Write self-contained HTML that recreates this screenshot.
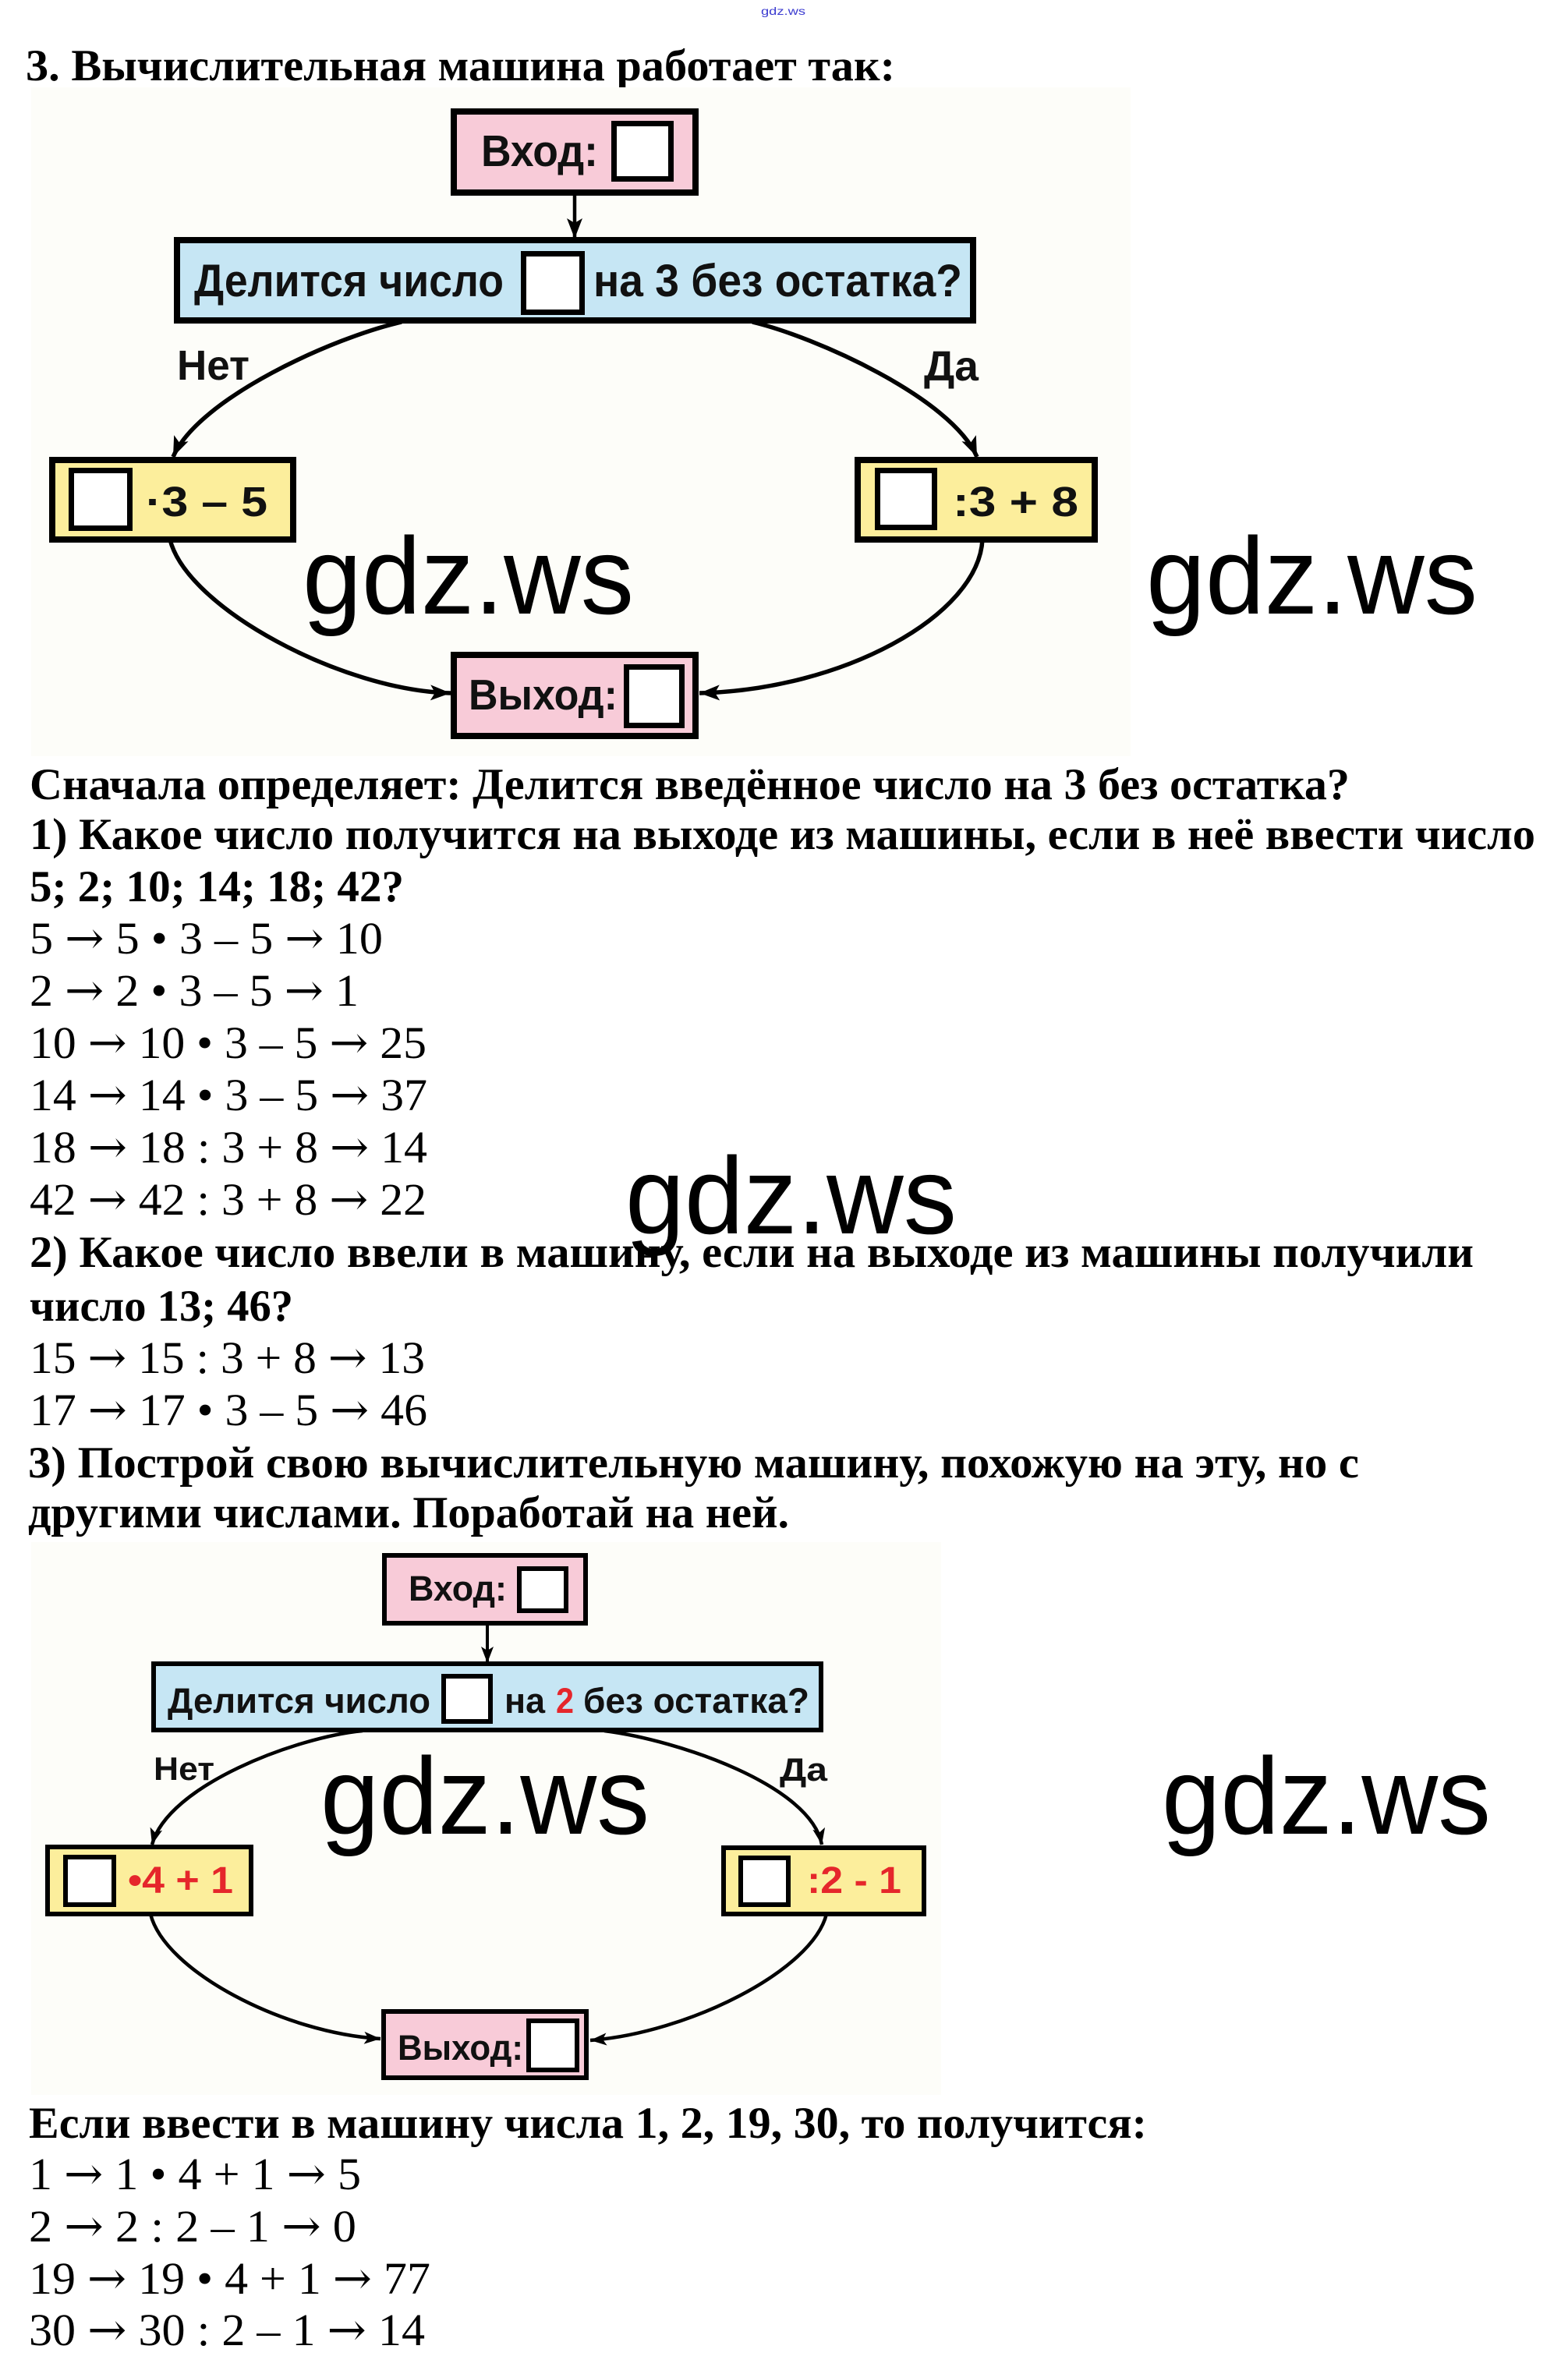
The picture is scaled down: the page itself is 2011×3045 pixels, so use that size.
<!DOCTYPE html>
<html>
<head>
<meta charset="utf-8">
<style>
  html, body { margin: 0; padding: 0; background: #ffffff; }
  svg { display: block; }
  .b { font-family: "Liberation Serif", "DejaVu Serif", serif; font-weight: bold; font-size: 57px; fill: #000; }
  .r { font-family: "Liberation Serif", "DejaVu Serif", serif; font-weight: normal; font-size: 58px; fill: #000; }
  .ar { font-family: "DejaVu Serif", "DejaVu Sans", serif; font-weight: normal; }
  .d { font-family: "Liberation Sans", "DejaVu Sans", sans-serif; font-weight: bold; fill: #111; }
  .wm { font-family: "Liberation Sans", "DejaVu Sans", sans-serif; font-weight: normal; font-size: 140px; fill: #000; }
  .pink { fill: #f8cbd8; stroke: #000; }
  .blue { fill: #c6e6f4; stroke: #000; }
  .yel { fill: #fcee9c; stroke: #000; }
  .wh { fill: #ffffff; stroke: #000; }
  .cv1 { fill: none; stroke: #000; stroke-width: 5.5; }
  .cv2 { fill: none; stroke: #000; stroke-width: 4.5; }
  .red { fill: #e5262b; }
</style>
</head>
<body>
<svg xmlns="http://www.w3.org/2000/svg" width="2011" height="3045" viewBox="0 0 2011 3045">
  <defs>
    <marker id="a1" markerUnits="userSpaceOnUse" markerWidth="30" markerHeight="24" refX="26" refY="11" orient="auto">
      <path d="M0,1 L26,11 L0,21 L6,11 z" fill="#000"/>
    </marker>
    <marker id="a2" markerUnits="userSpaceOnUse" markerWidth="24" markerHeight="20" refX="21" refY="9" orient="auto">
      <path d="M0,1 L21,9 L0,17 L5,9 z" fill="#000"/>
    </marker>
  </defs>

  <rect x="0" y="0" width="2011" height="3045" fill="#ffffff"/>

  <!-- small top watermark -->
  <text x="976" y="19" font-family="'Liberation Sans', sans-serif" font-size="14" fill="#3b3bd0" textLength="57" lengthAdjust="spacingAndGlyphs">gdz.ws</text>

  <!-- title -->
  <text class="b" x="33" y="103" textLength="1115" lengthAdjust="spacingAndGlyphs">3. Вычислительная машина работает так:</text>

  <!-- ================= DIAGRAM 1 ================= -->
  <rect x="40" y="112" width="1410" height="858" fill="#fdfdf9"/>

  <!-- curves -->
  <path class="cv1" d="M515,413 C430,432 255,510 222,586" marker-end="url(#a1)"/>
  <path class="cv1" d="M965,413 C1045,432 1220,510 1253,586" marker-end="url(#a1)"/>
  <path class="cv1" d="M218,692 C240,780 440,886 578,889" marker-end="url(#a1)"/>
  <path class="cv1" d="M1260,692 C1255,790 1080,885 897,889" marker-end="url(#a1)"/>
  <!-- entry arrow -->
  <path d="M737,251 L737,306" stroke="#000" stroke-width="4.5" fill="none" marker-end="url(#a1)"/>

  <!-- Вход -->
  <rect class="pink" x="582" y="143" width="310" height="104" stroke-width="8"/>
  <rect class="wh" x="787.5" y="158.5" width="73" height="71" stroke-width="7"/>
  <text class="d" x="617" y="213" font-size="57" textLength="150" lengthAdjust="spacingAndGlyphs">Вход:</text>

  <!-- Делится -->
  <rect class="blue" x="227" y="308" width="1021" height="103" stroke-width="8"/>
  <rect class="wh" x="671.5" y="325.5" width="75" height="75" stroke-width="7"/>
  <text class="d" x="249" y="380" font-size="58" textLength="397" lengthAdjust="spacingAndGlyphs">Делится число</text>
  <text class="d" x="761" y="380" font-size="58" textLength="473" lengthAdjust="spacingAndGlyphs">на 3 без остатка?</text>

  <!-- labels -->
  <text class="d" x="227" y="487" font-size="54" textLength="93" lengthAdjust="spacingAndGlyphs">Нет</text>
  <text class="d" x="1185" y="488" font-size="54" textLength="70" lengthAdjust="spacingAndGlyphs">Да</text>

  <!-- left box -->
  <rect class="yel" x="67" y="590" width="309" height="102" stroke-width="8"/>
  <rect class="wh" x="91.5" y="603.5" width="75" height="74" stroke-width="7"/>
  <text class="d" x="187" y="662" font-size="54" textLength="156" lengthAdjust="spacingAndGlyphs">·3 – 5</text>

  <!-- right box -->
  <rect class="yel" x="1100" y="590" width="304" height="102" stroke-width="8"/>
  <rect class="wh" x="1125.5" y="603.5" width="73" height="73" stroke-width="7"/>
  <text class="d" x="1222" y="662" font-size="54" textLength="161" lengthAdjust="spacingAndGlyphs">:3 + 8</text>

  <!-- Выход -->
  <rect class="pink" x="582" y="840" width="310" height="104" stroke-width="8"/>
  <rect class="wh" x="803.5" y="855.5" width="71" height="75" stroke-width="7"/>
  <text class="d" x="601" y="910" font-size="55" textLength="191" lengthAdjust="spacingAndGlyphs">Выход:</text>

  <!-- watermarks diagram 1 -->
  <text class="wm" x="388" y="787" textLength="425" lengthAdjust="spacingAndGlyphs">gdz.ws</text>
  <text class="wm" x="1470" y="787" textLength="425" lengthAdjust="spacingAndGlyphs">gdz.ws</text>

  <!-- ================= TEXT BLOCK 1 ================= -->
  <text class="b" x="38" y="1025" textLength="1693" lengthAdjust="spacingAndGlyphs">Сначала определяет: Делится введённое число на 3 без остатка?</text>
  <text class="b" x="38" y="1089" textLength="1931" lengthAdjust="spacingAndGlyphs">1) Какое число получится на выходе из машины, если в неё ввести число</text>
  <text class="b" x="38" y="1156" textLength="480" lengthAdjust="spacingAndGlyphs">5; 2; 10; 14; 18; 42?</text>
  <text class="r" x="38" y="1223" textLength="453" lengthAdjust="spacingAndGlyphs">5 <tspan class="ar">→</tspan> 5 • 3 – 5 <tspan class="ar">→</tspan> 10</text>
  <text class="r" x="38" y="1290" textLength="422" lengthAdjust="spacingAndGlyphs">2 <tspan class="ar">→</tspan> 2 • 3 – 5 <tspan class="ar">→</tspan> 1</text>
  <text class="r" x="38" y="1357" textLength="509" lengthAdjust="spacingAndGlyphs">10 <tspan class="ar">→</tspan> 10 • 3 – 5 <tspan class="ar">→</tspan> 25</text>
  <text class="r" x="38" y="1424" textLength="510" lengthAdjust="spacingAndGlyphs">14 <tspan class="ar">→</tspan> 14 • 3 – 5 <tspan class="ar">→</tspan> 37</text>
  <text class="r" x="38" y="1491" textLength="510" lengthAdjust="spacingAndGlyphs">18 <tspan class="ar">→</tspan> 18 : 3 + 8 <tspan class="ar">→</tspan> 14</text>
  <text class="r" x="38" y="1558" textLength="509" lengthAdjust="spacingAndGlyphs">42 <tspan class="ar">→</tspan> 42 : 3 + 8 <tspan class="ar">→</tspan> 22</text>

  <text class="wm" x="802" y="1582" textLength="425" lengthAdjust="spacingAndGlyphs">gdz.ws</text>

  <text class="b" x="38" y="1625" textLength="1852" lengthAdjust="spacingAndGlyphs">2) Какое число ввели в машину, если на выходе из машины получили</text>
  <text class="b" x="38" y="1694" textLength="338" lengthAdjust="spacingAndGlyphs">число 13; 46?</text>
  <text class="r" x="38" y="1761" textLength="507" lengthAdjust="spacingAndGlyphs">15 <tspan class="ar">→</tspan> 15 : 3 + 8 <tspan class="ar">→</tspan> 13</text>
  <text class="r" x="38" y="1828" textLength="510" lengthAdjust="spacingAndGlyphs">17 <tspan class="ar">→</tspan> 17 • 3 – 5 <tspan class="ar">→</tspan> 46</text>
  <text class="b" x="36" y="1895" textLength="1707" lengthAdjust="spacingAndGlyphs">3) Построй свою вычислительную машину, похожую на эту, но с</text>
  <text class="b" x="36" y="1959" textLength="976" lengthAdjust="spacingAndGlyphs">другими числами. Поработай на ней.</text>

  <!-- ================= DIAGRAM 2 ================= -->
  <rect x="40" y="1978" width="1167" height="709" fill="#fdfdf9"/>

  <path class="cv2" d="M465,2220 C380,2228 215,2290 195,2366" marker-end="url(#a2)"/>
  <path class="cv2" d="M775,2220 C870,2232 1040,2290 1054,2366" marker-end="url(#a2)"/>
  <path class="cv2" d="M193,2455 C211,2528 364,2608 488,2615" marker-end="url(#a2)"/>
  <path class="cv2" d="M1060,2455 C1042,2528 881,2608 757,2617" marker-end="url(#a2)"/>
  <path d="M625,2085 L625,2133" stroke="#000" stroke-width="4" fill="none" marker-end="url(#a2)"/>

  <!-- Вход -->
  <rect class="pink" x="493" y="1995" width="258" height="87" stroke-width="6"/>
  <rect class="wh" x="666" y="2012" width="60" height="54" stroke-width="6"/>
  <text class="d" x="524" y="2053" font-size="45" textLength="126" lengthAdjust="spacingAndGlyphs">Вход:</text>

  <!-- Делится -->
  <rect class="blue" x="197" y="2134" width="856" height="85" stroke-width="6"/>
  <rect class="wh" x="569" y="2150" width="60" height="58" stroke-width="6"/>
  <text class="d" x="215" y="2197" font-size="45" textLength="337" lengthAdjust="spacingAndGlyphs">Делится число</text>
  <text class="d" x="647" y="2197" font-size="45" textLength="52" lengthAdjust="spacingAndGlyphs">на</text>
  <text class="d red" x="713" y="2197" font-size="45" textLength="23" lengthAdjust="spacingAndGlyphs">2</text>
  <text class="d" x="748" y="2197" font-size="45" textLength="290" lengthAdjust="spacingAndGlyphs">без остатка?</text>

  <text class="d" x="197" y="2283" font-size="42" textLength="78" lengthAdjust="spacingAndGlyphs">Нет</text>
  <text class="d" x="1000" y="2284" font-size="42" textLength="61" lengthAdjust="spacingAndGlyphs">Да</text>

  <!-- left box -->
  <rect class="yel" x="61" y="2369" width="261" height="86" stroke-width="6"/>
  <rect class="wh" x="84" y="2382" width="62" height="61" stroke-width="6"/>
  <text class="d red" x="164" y="2428" font-size="48" textLength="135" lengthAdjust="spacingAndGlyphs">•4 + 1</text>

  <!-- right box -->
  <rect class="yel" x="928" y="2370" width="257" height="85" stroke-width="6"/>
  <rect class="wh" x="950" y="2383" width="61" height="60" stroke-width="6"/>
  <text class="d red" x="1035" y="2428" font-size="48" textLength="121" lengthAdjust="spacingAndGlyphs">:2 - 1</text>

  <!-- Выход -->
  <rect class="pink" x="492" y="2580" width="260" height="85" stroke-width="6"/>
  <rect class="wh" x="678" y="2592" width="62" height="63" stroke-width="6"/>
  <text class="d" x="510" y="2642" font-size="45" textLength="161" lengthAdjust="spacingAndGlyphs">Выход:</text>

  <!-- watermarks diagram 2 -->
  <text class="wm" x="411" y="2352" textLength="422" lengthAdjust="spacingAndGlyphs">gdz.ws</text>
  <text class="wm" x="1490" y="2352" textLength="422" lengthAdjust="spacingAndGlyphs">gdz.ws</text>

  <!-- ================= TEXT BLOCK 2 ================= -->
  <text class="b" x="37" y="2742" textLength="1434" lengthAdjust="spacingAndGlyphs">Если ввести в машину числа 1, 2, 19, 30, то получится:</text>
  <text class="r" x="37" y="2808" textLength="426" lengthAdjust="spacingAndGlyphs">1 <tspan class="ar">→</tspan> 1 • 4 + 1 <tspan class="ar">→</tspan> 5</text>
  <text class="r" x="37" y="2875" textLength="420" lengthAdjust="spacingAndGlyphs">2 <tspan class="ar">→</tspan> 2 : 2 – 1 <tspan class="ar">→</tspan> 0</text>
  <text class="r" x="37" y="2942" textLength="515" lengthAdjust="spacingAndGlyphs">19 <tspan class="ar">→</tspan> 19 • 4 + 1 <tspan class="ar">→</tspan> 77</text>
  <text class="r" x="37" y="3008" textLength="508" lengthAdjust="spacingAndGlyphs">30 <tspan class="ar">→</tspan> 30 : 2 – 1 <tspan class="ar">→</tspan> 14</text>
</svg>
</body>
</html>
